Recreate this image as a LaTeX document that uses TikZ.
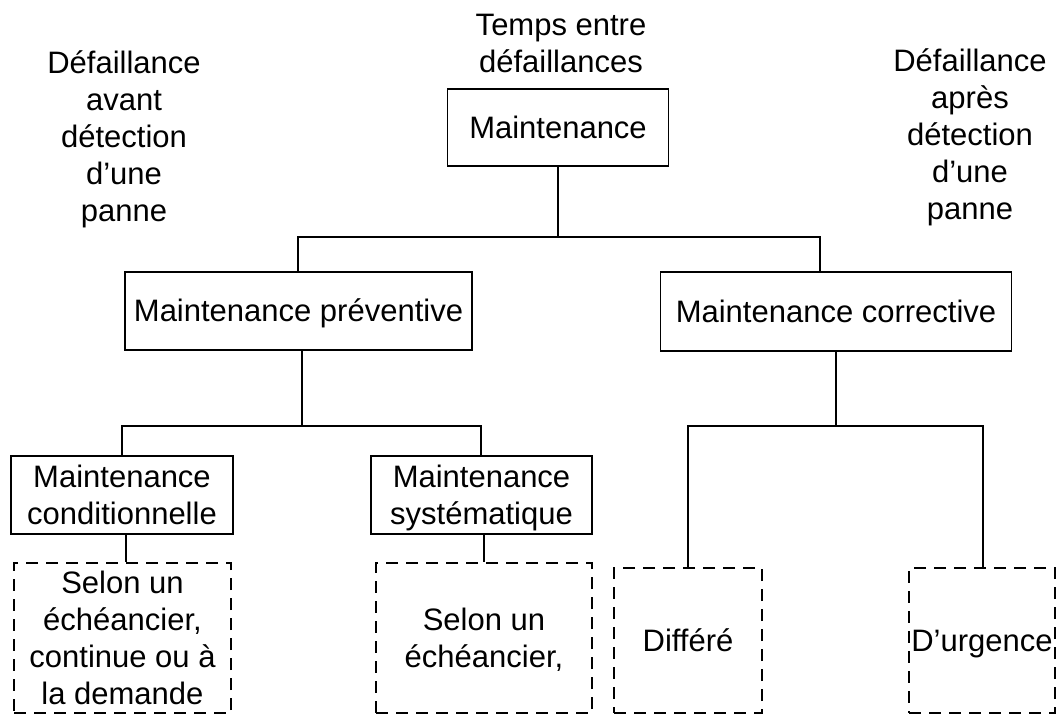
\documentclass[tikz,border=0pt]{standalone}
\usepackage{fontspec}
\setmainfont{Liberation Sans}
\usepackage{tikz}

\begin{document}
\begin{tikzpicture}[x=1pt,y=-1pt,
  txt/.style={inner sep=0pt,align=flush center,font=\fontsize{31}{37}\selectfont,
    text height=21.7pt,text depth=0pt},
  box/.style={txt,draw,line width=1.9pt},
  dbox/.style={box,dash pattern=on 12pt off 8pt},
  lbl/.style={txt,text width=230pt},
  link/.style={line width=1.9pt}]
  \useasboundingbox (0,0) rectangle (1056,715);
  % labels
  \node[lbl,text depth=37pt] (tps) at (561,43.3) {Temps entre\\défaillances};
  \node[lbl,text depth=148pt] (avant) at (124,136.5) {Défaillance\\avant\\détection\\d’une\\panne};
  \node[lbl,text depth=148pt] (apres) at (970,134.2) {Défaillance\\après\\détection\\d’une\\panne};
  % boxes
  \node[box,text width=221pt,minimum height=77] (maint) at (558,127.5) {Maintenance};
  \node[box,text width=347pt,minimum height=78] (prev) at (298.5,311) {Maintenance préventive};
  \node[box,text width=351pt,minimum height=79] (corr) at (836,311.5) {Maintenance corrective};
  \node[box,text width=222pt,text depth=37pt,minimum height=78] (cond) at (122,495)
    {Maintenance\\conditionnelle};
  \node[box,text width=221pt,text depth=37pt,minimum height=78] (syst) at (481.5,495)
    {Maintenance\\systématique};
  \node[dbox,text width=217pt,text depth=111pt,minimum height=150] (d1) at (122.5,638)
    {Selon un\\échéancier,\\continue ou à\\la demande};
  \node[dbox,text width=216pt,text depth=37pt,minimum height=150] (d2) at (484,638)
    {Selon un\\échéancier,};
  \node[dbox,text width=148pt,minimum height=145] (diff) at (688,640.5) {Différé};
  \node[dbox,text width=146pt,minimum height=145] (urg) at (982,640.5) {D’urgence};
  % links
  \coordinate (b1) at (298,237);
  \coordinate (b2) at (820,237);
  \coordinate (b3) at (122,426);
  \coordinate (b4) at (481,426);
  \coordinate (b5) at (302,426);
  \coordinate (b6) at (688,426);
  \coordinate (b7) at (983,426);
  \coordinate (b8) at (126,534);
  \draw[link]
    (maint.south)
    --
    (maint.south |- b1);
  \draw[link]
    (b1 |- prev.north)
    --
    (b1)
    --
    (b2)
    --
    (b2 |- corr.north);
  \draw[link]
    (b5 |- prev.south)
    --
    (b5);
  \draw[link]
    (b3 |- cond.north)
    --
    (b3)
    --
    (b4)
    --
    (b4 |- syst.north);
  \draw[link]
    (corr.south)
    --
    (corr.south |- b6);
  \draw[link]
    (b6 |- diff.north)
    --
    (b6)
    --
    (b7)
    --
    (b7 |- urg.north);
  \draw[link]
    (b8)
    --
    (b8 |- d1.north);
  \draw[link]
    (d2.north |- syst.south)
    --
    (d2.north);
\end{tikzpicture}
\end{document}
